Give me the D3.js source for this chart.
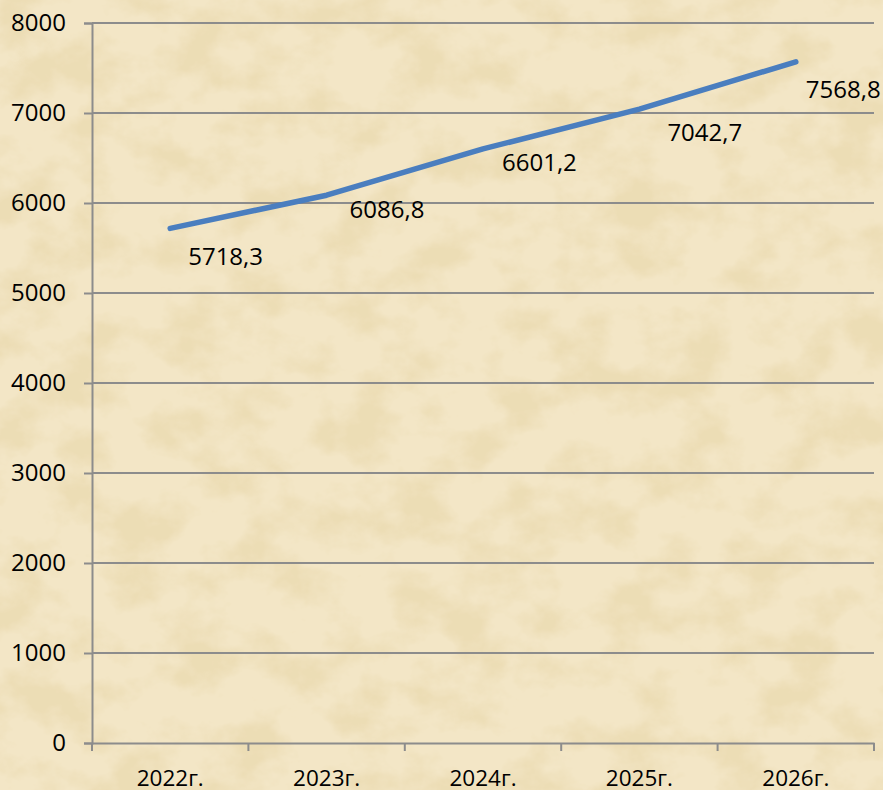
<!DOCTYPE html>
<html>
<head>
<meta charset="utf-8">
<script src="https://cdn.jsdelivr.net/npm/d3@7"></script>
<style>
  body { margin: 0; background: #f0e1bd; }
  svg { display: block; }
</style>
</head>
<body>
<div id="chart"></div>
<script>
// data
var years = ["2022г.", "2023г.", "2024г.", "2025г.", "2026г."]
var values = [5718.3, 6086.8, 6601.2, 7042.7, 7568.8]
var yTicks = [0, 1000, 2000, 3000, 4000, 5000, 6000, 7000, 8000]

// label nudges (px) so the value labels sit like in the original
var labelDx = [18, 23, 19, 28, 10]
var labelDy = [37, 23, 22, 32, 36]

var width = 883,
    height = 790,
    margin = {top: 23, right: 9, bottom: 47, left: 92}

var svg = d3.select("#chart")
  .append("svg")
    .attr("width", width)
    .attr("height", height)

// parchment-ish background: a pale base with mottled darker spots
var defs = svg.append("defs")
var filter = defs.append("filter").attr("id", "paper")
  .attr("filterUnits", "userSpaceOnUse")
  .attr("x", 0).attr("y", 0).attr("width", width).attr("height", height)
filter.append("feTurbulence")
  .attr("type", "fractalNoise")
  .attr("baseFrequency", "0.018 0.022")
  .attr("numOctaves", 5)
  .attr("seed", 11)
  .attr("result", "noise")
filter.append("feColorMatrix")
  .attr("in", "noise")
  .attr("type", "matrix")
  .attr("values", "0 0 0 0 0.84  0 0 0 0 0.72  0 0 0 0 0.46  3.2 0 0 0 -1.35")

svg.append("rect")
  .attr("width", width).attr("height", height)
  .attr("fill", "#f3e6c6")
svg.append("rect")
  .attr("width", width).attr("height", height)
  .attr("fill", "#fff")
  .attr("filter", "url(#paper)")

var g = svg.append("g")
  .attr("transform", "translate(" + margin.left + "," + margin.top + ")")

var w = width - margin.left - margin.right,
    h = height - margin.top - margin.bottom

var x = d3.scaleBand()
  .domain(years)
  .range([0, w])

var y = d3.scaleLinear()
  .domain([0, 8000])
  .range([h, 0])

var axisColor = "#8c8c8c"
var font = "'Open Sans', sans-serif"

// gridlines
g.selectAll(".grid")
  .data(yTicks.slice(1))
  .enter()
  .append("line")
    .attr("x1", 0)
    .attr("x2", w)
    .attr("y1", function(d) { return y(d) })
    .attr("y2", function(d) { return y(d) })
    .attr("stroke", axisColor)
    .attr("stroke-width", 2)

// y axis
var yAxis = g.append("g")
  .call(d3.axisLeft(y).tickValues(yTicks).tickSize(8).tickPadding(18).tickFormat(d3.format("d")))
yAxis.select(".domain").attr("stroke", axisColor).attr("stroke-width", 2)
yAxis.selectAll(".tick line").attr("stroke", axisColor).attr("stroke-width", 2)
yAxis.selectAll("text")
  .attr("fill", "#000")
  .style("font-family", font)
  .style("font-size", "24px")

// x axis with ticks on band edges
var xAxis = g.append("g")
  .attr("transform", "translate(0," + h + ")")
  .call(d3.axisBottom(x).tickSize(0).tickPadding(27))
xAxis.select(".domain").attr("stroke", axisColor).attr("stroke-width", 2)
xAxis.selectAll("text")
  .attr("fill", "#000")
  .style("font-family", font)
  .style("font-size", "22.5px")

var edges = years.map(function(d) { return x(d) }).concat([w])
xAxis.selectAll(".edge")
  .data(edges)
  .enter()
  .append("line")
    .attr("x1", function(d) { return d })
    .attr("x2", function(d) { return d })
    .attr("y1", 0)
    .attr("y2", 8)
    .attr("stroke", axisColor)
    .attr("stroke-width", 2)

// the line
var line = d3.line()
  .x(function(d, i) { return x(years[i]) + x.bandwidth() / 2 })
  .y(function(d) { return y(d) })

g.append("path")
  .datum(values)
  .attr("d", line)
  .attr("fill", "none")
  .attr("stroke", "#4a7ebf")
  .attr("stroke-width", 5.5)
  .attr("stroke-linecap", "round")
  .attr("stroke-linejoin", "round")

// value labels
var fmt = function(v) { return d3.format(".1f")(v).replace(".", ",") }
g.selectAll(".lbl")
  .data(values)
  .enter()
  .append("text")
    .attr("x", function(d, i) { return x(years[i]) + x.bandwidth() / 2 + labelDx[i] })
    .attr("y", function(d, i) { return y(d) + labelDy[i] })
    .attr("fill", "#000")
    .style("font-family", font)
    .style("font-size", "24px")
    .text(fmt)
</script>
</body>
</html>
